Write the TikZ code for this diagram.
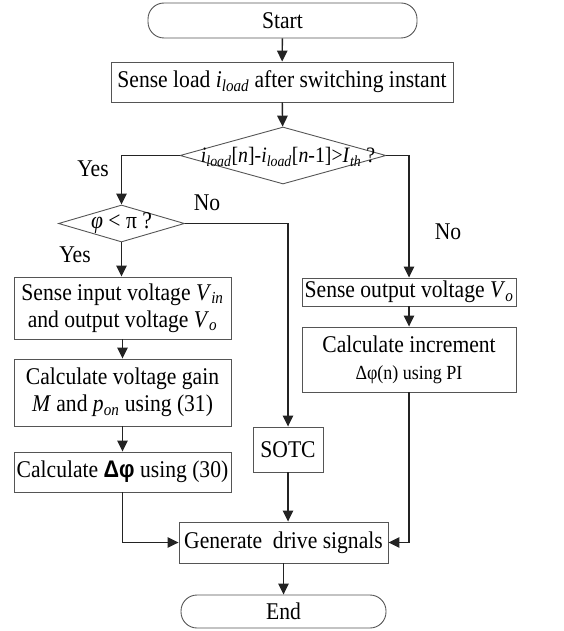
\documentclass[tikz,border=0pt]{standalone}
\usepackage{fontspec}
\setmainfont{Liberation Serif}[FakeStretch=0.9]
\newfontfamily\sansbold{Liberation Sans}[FakeStretch=0.9]
\usepackage{xcolor}
\definecolor{boxgrey}{RGB}{85, 85, 85}
\definecolor{linedark}{RGB}{35, 35, 35}
\usepackage{tikz}
\usetikzlibrary{arrows.meta, positioning, shapes.geometric}

\newcommand{\isub}[2]{\textit{#1}\textsubscript{\textit{#2}}}

\begin{document}
\begin{tikzpicture}[x=1pt, y=-1pt, >={Triangle[length=11pt, width=10.5pt]},
    every node/.style={font=\fontsize{24}{27}\selectfont},
    box/.style={draw=boxgrey, line width=0.9pt, rectangle, inner sep=0pt, align=center},
    term/.style={draw=boxgrey, line width=0.9pt, rectangle, rounded corners=16pt, inner sep=0pt},
    decision/.style={draw=boxgrey, line width=0.9pt, diamond, inner sep=0pt},
    flow/.style={->, linedark, line width=1.4pt}]
    \useasboundingbox (0,0) rectangle (564,631);

    % terminals
    \node[term, minimum width=269pt, minimum height=35pt] (start) at (282.5,20.5) {Start};
    \node[term, minimum width=205pt, minimum height=33pt] (end) at (283.5,611.5) {End};

    % main column
    \node[box, minimum width=342pt, minimum height=40pt] (sense) at (282,82)
        {Sense load \isub{i}{load} after switching instant};
    \node[decision, minimum width=206pt, minimum height=57pt] (dec1) at (283,155.5) {};
    \node[font=\fontsize{22}{26}\selectfont] (dec1txt) at (288,157)
        {\isub{i}{load}[\textit{n}]-\isub{i}{load}[\textit{n}-1]>\isub{I}{th} ?};

    % left branch
    \node[decision, minimum width=126pt, minimum height=37pt] (dec2) at (121.5,223.5) {};
    \node (dec2txt) at (121.5,223.5) {\textit{φ} < π ?};
    \node[box, minimum width=217pt, minimum height=62pt] (vin) at (122.5,308)
        {Sense input voltage \isub{V}{in}\\and output voltage \isub{V}{o}};
    \node[box, minimum width=217pt, minimum height=67pt] (gain) at (122.5,392.5)
        {Calculate voltage gain\\\textit{M} and \isub{p}{on} using (31)};
    \node[box, minimum width=217pt, minimum height=40pt] (dphi) at (122.5,472)
        {Calculate {\sansbold\bfseries Δφ} using (30)};

    % middle branch
    \node[box, minimum width=70pt, minimum height=45pt] (sotc) at (288,449.5) {SOTC};

    % right branch
    \node[box, minimum width=214pt, minimum height=28pt] (vo) at (409,292)
        {Sense output voltage \isub{V}{o}};
    \node[box, minimum width=214pt, minimum height=65pt] (inc) at (409,359.5)
        {Calculate increment\\{\fontsize{20}{24}\selectfont Δφ(n) using PI}};

    \node[box, minimum width=209pt, minimum height=41pt] (gen) at (283.5,542.5)
        {Generate\ \ drive signals};

    % labels
    \node (yes1) at (93,169) {Yes};
    \node (no1) at (207,203) {No};
    \node (yes2) at (75,255) {Yes};
    \node (no2) at (448,232) {No};

    % connectors
    \draw[flow] (start) -- (sense);
    \draw[flow] (sense) -- (dec1);
    \draw[flow] (dec1.west) -| (dec2.north);
    \draw[flow] (dec1.east) -| (vo.north);
    \draw[flow] (dec2.east) -| (sotc.north);
    \draw[flow] (dec2) -- (dec2 |- vin.north);
    \draw[flow] (vin) -- (gain);
    \draw[flow] (gain) -- (dphi);
    \draw[flow] (vo) -- (inc);
    \draw[flow] (dphi.south) |- (gen.west);
    \draw[flow] (inc.south) |- (gen.east);
    \draw[flow] (sotc.south) -- (sotc.south |- gen.north);
    \draw[flow] (gen) -- (end);
\end{tikzpicture}
\end{document}
